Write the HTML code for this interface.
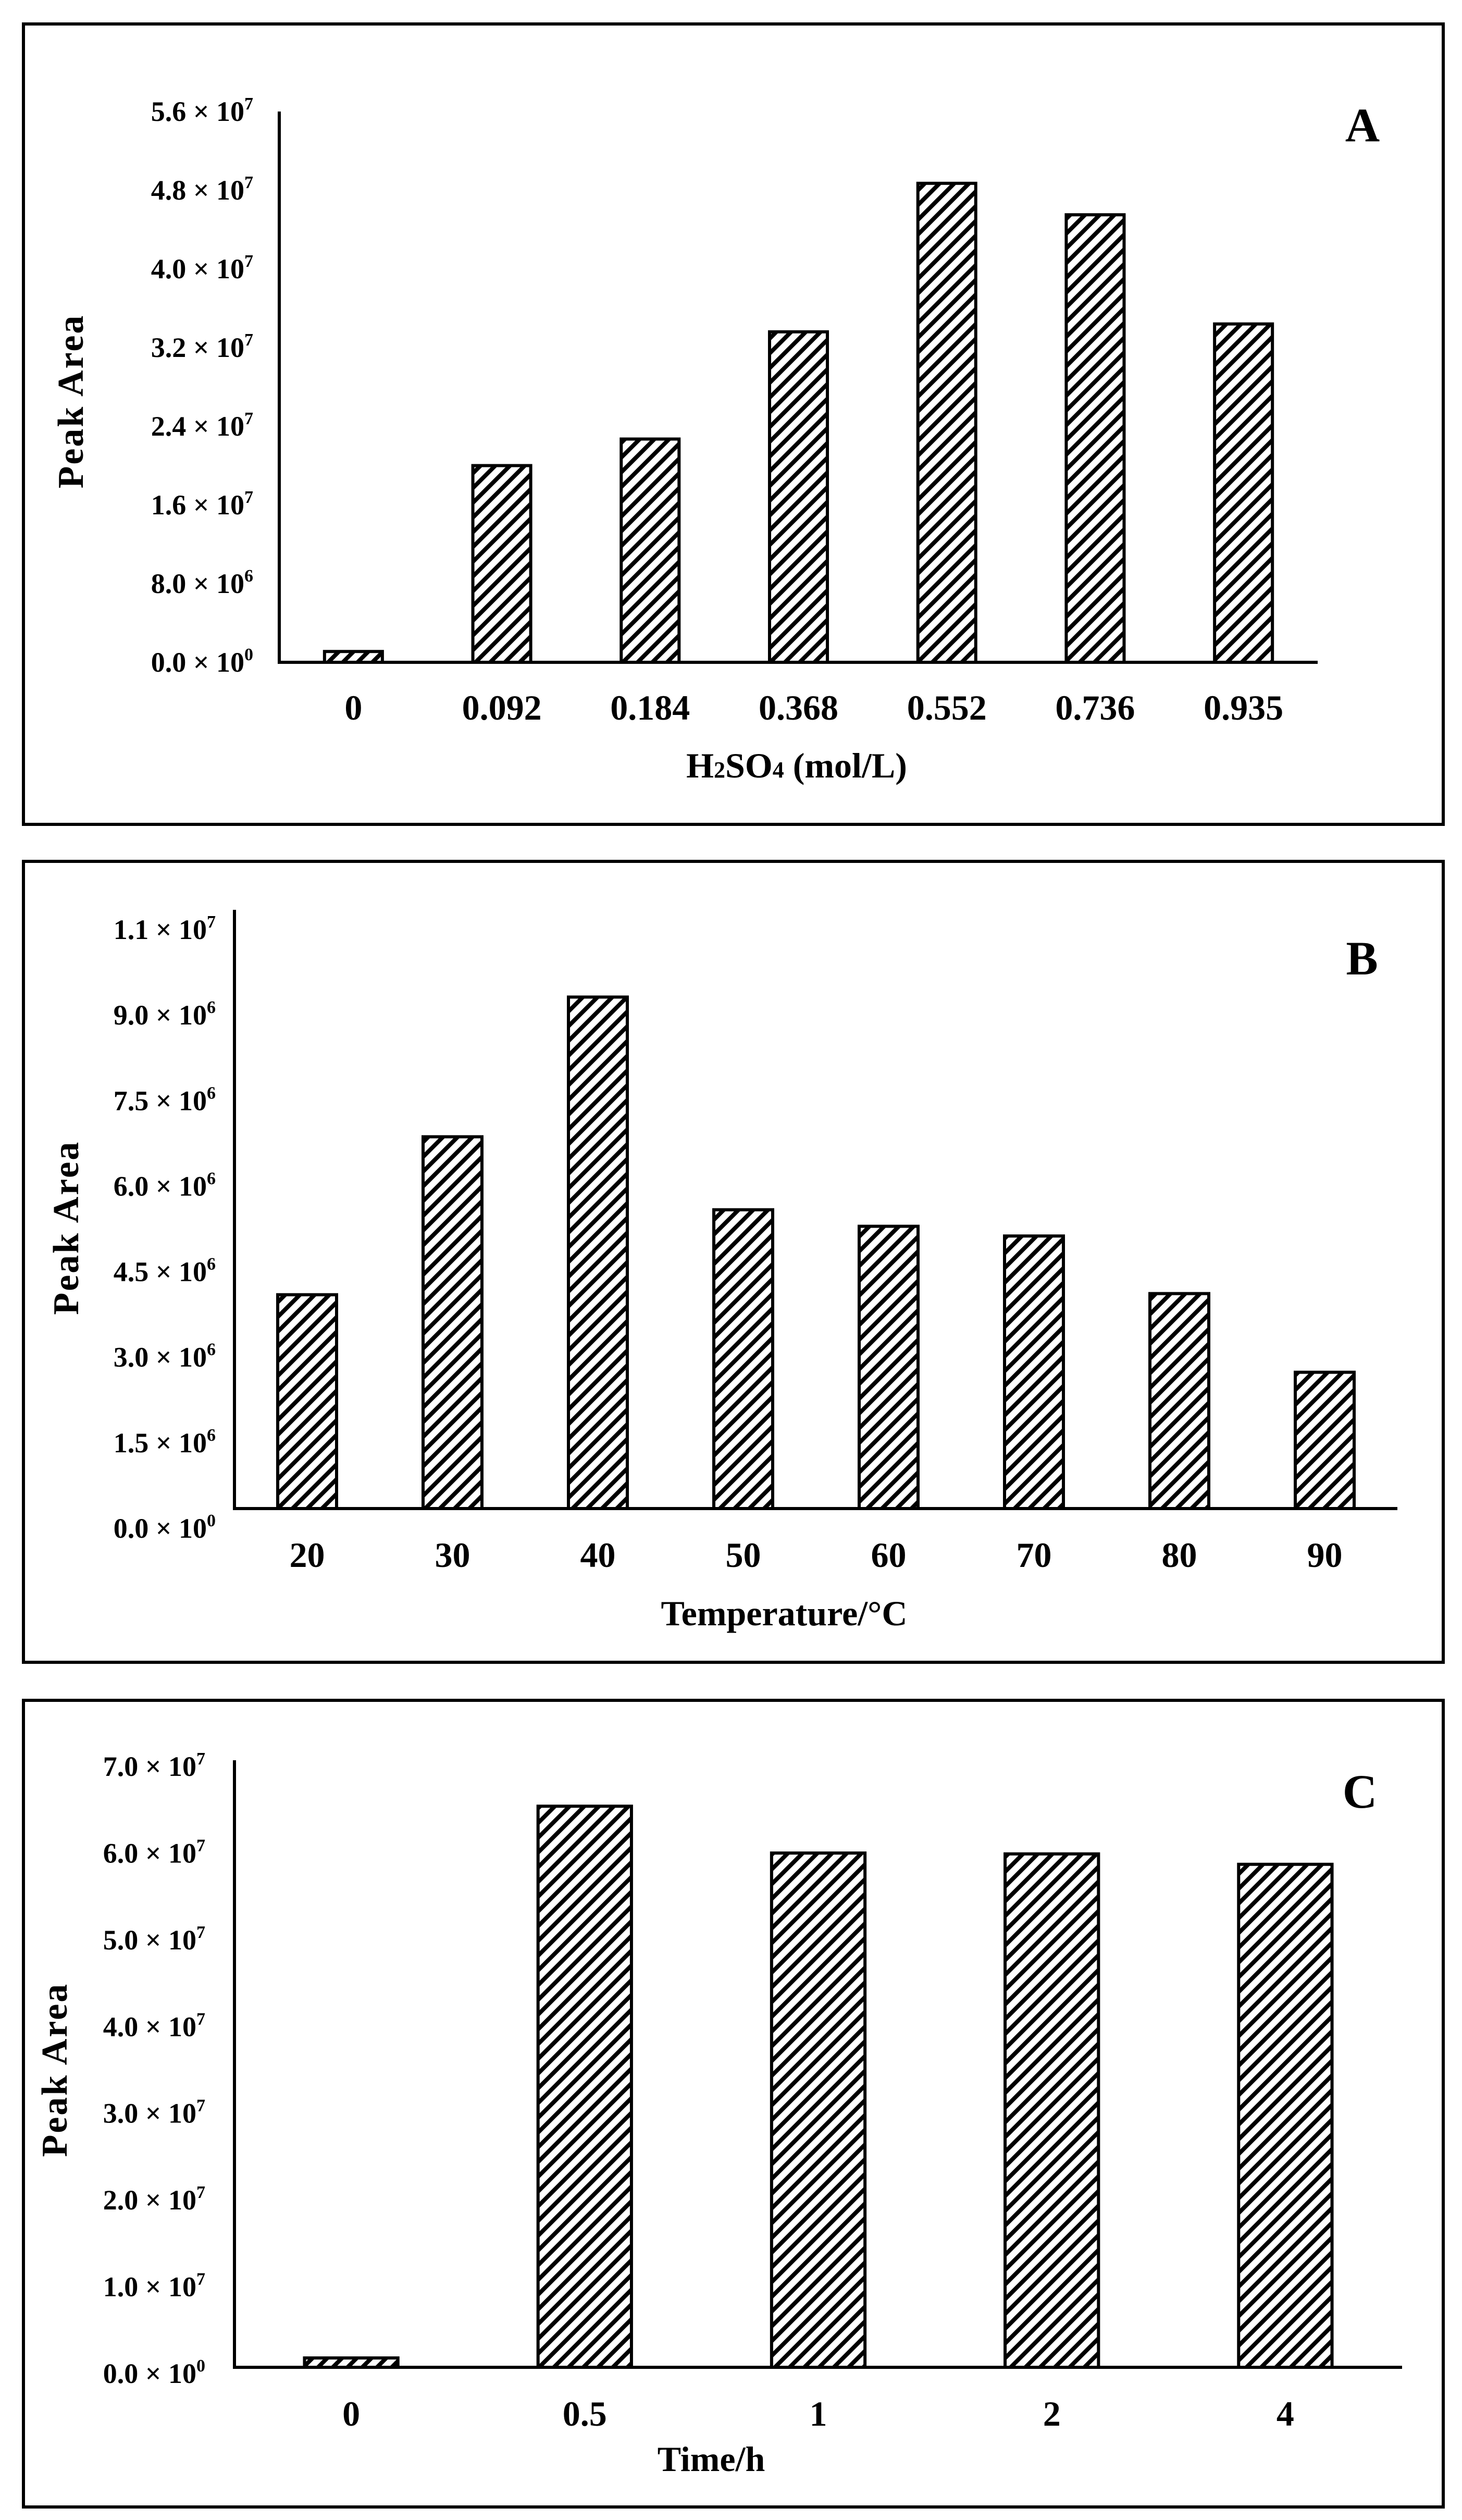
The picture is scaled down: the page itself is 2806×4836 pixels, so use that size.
<!DOCTYPE html>
<html><head><meta charset="utf-8"><style>
html,body{margin:0;padding:0;background:#fff;}
svg{display:block;font-family:"Liberation Serif",serif;font-weight:bold;}
</style></head><body>
<svg id="fig" width="2806" height="4836" viewBox="0 0 2806 4836" xmlns="http://www.w3.org/2000/svg">
<defs>
<pattern id="hatch" patternUnits="userSpaceOnUse" width="20" height="20" patternTransform="rotate(45)">
<rect width="20" height="20" fill="#fff"/>
<rect x="0" y="0" width="8" height="20" fill="#000"/>
</pattern>
</defs>
<rect width="2806" height="4836" fill="#fff"/>
</svg>
<script>
// Panel A data
const catsA = ["0","0.092","0.184","0.368","0.552","0.736","0.935"];
const valsA = [1.1e6, 2.0e7, 2.27e7, 3.36e7, 4.87e7, 4.55e7, 3.44e7];
const tickValsA = [0, 8e6, 1.6e7, 2.4e7, 3.2e7, 4.0e7, 4.8e7, 5.6e7];
const tickMantA = ["0.0","8.0","1.6","2.4","3.2","4.0","4.8","5.6"];
const tickExpA = ["0","6","7","7","7","7","7","7"];
// Panel B data
const catsB = ["20","30","40","50","60","70","80","90"];
const valsB = [3.75e6, 6.52e6, 8.97e6, 5.24e6, 4.95e6, 4.78e6, 3.77e6, 2.39e6];
const tickValsB = [0, 1.5e6, 3.0e6, 4.5e6, 6.0e6, 7.5e6, 9.0e6, 1.05e7];
const tickMantB = ["0.0","1.5","3.0","4.5","6.0","7.5","9.0","1.1"];
const tickExpB = ["0","6","6","6","6","6","6","7"];
// Panel C data
const catsC = ["0","0.5","1","2","4"];
const valsC = [1.08e6, 6.47e7, 5.93e7, 5.92e7, 5.80e7];
const tickValsC = [0, 1e7, 2e7, 3e7, 4e7, 5e7, 6e7, 7e7];
const tickMantC = ["0.0","1.0","2.0","3.0","4.0","5.0","6.0","7.0"];
const tickExpC = ["0","7","7","7","7","7","7","7"];

const NS = "http://www.w3.org/2000/svg";
const svg = document.getElementById('fig');
function mk(tag, attrs, parent){
  const e = document.createElementNS(NS, tag);
  for (const k in attrs) e.setAttribute(k, attrs[k]);
  (parent||svg).appendChild(e);
  return e;
}

function panel(cfg, cats, vals, tickVals, tickMant, tickExp){
  const g = mk('g', {});
  
  
  const border = mk('rect', {x:cfg.bx0, y:cfg.by0, width:cfg.bx1-cfg.bx0, height:cfg.by1-cfg.by0, fill:'none', stroke:'#000', 'stroke-width':6}, g);
  
  
  const yScale = v => cfg.yBase - (v / cfg.max) * (cfg.yBase - cfg.yTop);
  const band = (cfg.x1 - cfg.x0) / cats.length;
  const xCenter = i => cfg.x0 + band * (i + 0.5);
  // bars
  cats.forEach((c, i) => {
    const w = band * cfg.barFrac;
    const y = yScale(vals[i]);
    const r = mk('rect', {x:xCenter(i)-w/2, y:y, width:w, height:cfg.yBase-y, fill:'url(#hatch)', stroke:'#000', 'stroke-width':6}, g);
    
    
    const t = mk('text', {x:xCenter(i), y:cfg.xLabY + 23, 'text-anchor':'middle', 'font-size':68}, g);
    t.textContent = c;
    
    
  });
  // axes
  const ya = mk('line', {x1:cfg.x0, y1:cfg.yTop, x2:cfg.x0, y2:cfg.yBase+3, stroke:'#000', 'stroke-width':6}, g);
  
  
  const xa = mk('line', {x1:cfg.x0-3, y1:cfg.yBase, x2:cfg.x1, y2:cfg.yBase, stroke:'#000', 'stroke-width':6}, g);
  
  
  // y tick labels
  tickVals.forEach((v, i) => {
    const cy = yScale(v) + cfg.labOff;
    const t = mk('text', {x:cfg.yLabX, y:cy + 18, 'text-anchor':'end', 'font-size':54}, g);
    
    
    const s1 = mk('tspan', {}, t);
    s1.textContent = tickMant[i] + " \u00d7 10";
    const s2 = mk('tspan', {'font-size':34, dy:-22}, t);
    s2.textContent = tickExp[i];
  });
  // y title
  const yt = mk('text', {x:0, y:0, 'text-anchor':'middle', 'font-size':70, 'letter-spacing':3, transform:`translate(${cfg.ytX + 24},${cfg.ytY}) rotate(-90)`}, g);
  yt.textContent = 'Peak Area';
  
  
  // x title
  const xt = mk('text', {x:cfg.xtX, y:cfg.xtY + 23, 'text-anchor':'middle', 'font-size':68}, g);
  
  
  cfg.xTitle.forEach(p => {
    const s = mk('tspan', p[1] ? {'font-size':44} : {}, xt);
    s.textContent = p[0];
  });
  // panel letter
  const pl = mk('text', {x:cfg.lx, y:cfg.ly + 31, 'text-anchor':'middle', 'font-size':92}, g);
  pl.textContent = cfg.id;
  
  
}

panel({id:'A', bx0:45, by0:46, bx1:2770, by1:1582, x0:536, x1:2529, yTop:214, yBase:1271, max:5.6e7, barFrac:0.39,
  yLabX:486, labOff:0, xLabY:1358, xtX:1529, xtY:1469, ytX:135, ytY:770, lx:2615, ly:240,
  xTitle:[["H"],["2",1],["SO"],["4",1],[" (mol/L)"]]}, catsA, valsA, tickValsA, tickMantA, tickExpA);
panel({id:'B', bx0:45, by0:1653, bx1:2770, by1:3190, x0:450, x1:2682, yTop:1746, yBase:2895, max:1.05e7, barFrac:0.405,
  yLabX:414, labOff:38, xLabY:2984, xtX:1505, xtY:3096, ytX:126, ytY:2356, lx:2614, ly:1839,
  xTitle:[["Temperature/\u00b0C"]]}, catsB, valsB, tickValsB, tickMantB, tickExpB);
panel({id:'C', bx0:45, by0:3263, bx1:2770, by1:4811, x0:450, x1:2691, yTop:3378, yBase:4543, max:7e7, barFrac:0.4,
  yLabX:394, labOff:12, xLabY:4632, xtX:1365, xtY:4719, ytX:104, ytY:3972, lx:2610, ly:3438,
  xTitle:[["Time/h"]]}, catsC, valsC, tickValsC, tickMantC, tickExpC);
</script>
</body></html>
